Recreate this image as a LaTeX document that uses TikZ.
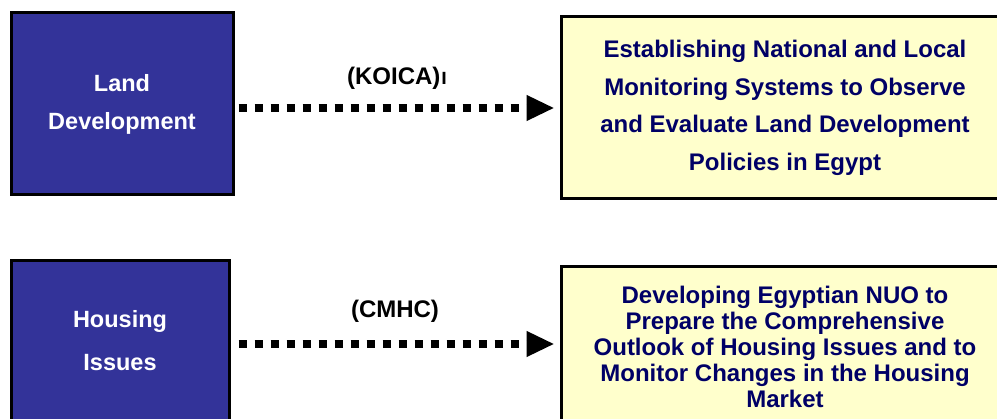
\documentclass[tikz,border=0pt]{standalone}
\usepackage{fontspec}
\setmainfont{Liberation Sans}
\newfontfamily\arabicfont[Script=Arabic]{DejaVu Sans}
\TeXXeTstate=1
\usepackage{tikz}
\usetikzlibrary{arrows.meta, positioning, calc}
\definecolor{themeblue}{HTML}{333399}
\definecolor{themeyellow}{HTML}{FFFFCC}
\definecolor{themenavy}{HTML}{000066}
\begin{document}
\begin{tikzpicture}[x=1pt, y=-1pt,
		topic/.style={draw=black, line width=3pt, fill=themeblue, text=white, align=center, inner sep=0pt},
		goal/.style={draw=black, line width=3pt, fill=themeyellow, text=themenavy, align=center, inner sep=0pt},
		flow/.style={line width=8pt, dash pattern=on 8pt off 8pt, -{Triangle[length=28pt, width=24pt]}, shorten <=4pt, shorten >=5pt},
		agency/.style={font=\fontsize{24}{26}\selectfont\bfseries}]
		% Bildbereich
		\useasboundingbox (0,0) rectangle (997,419);
		\clip (0,0) rectangle (997,419);
		% Themen
		\node[topic, minimum width=222pt, minimum height=182pt, font=\fontsize{23.5}{38}\selectfont\bfseries] (land) at (122,104) {Land\\Development};
		\node[topic, minimum width=218pt, minimum height=160pt, font=\fontsize{23.5}{43}\selectfont\bfseries] (housing) at (120,341) {Housing\\Issues};
		% Ziele
		\node[goal, minimum width=448pt, minimum height=182pt, font=\fontsize{24}{37.5}\selectfont\bfseries] (monitor) at (785,108)
			{Establishing National and Local\\Monitoring Systems to Observe\\and Evaluate Land Development\\Policies in Egypt};
		\node[goal, minimum width=448pt, minimum height=160pt, font=\fontsize{24}{25.8}\selectfont\bfseries] (nuo) at (785,347)
			{Developing Egyptian NUO to\\Prepare the Comprehensive\\Outlook of Housing Issues and to\\Monitor Changes in the Housing\\Market};
		% Pfeile
		\draw[flow] (land.east |- monitor) -- (monitor.west) node[midway, above=11pt, agency] (koica) {(KOICA)\kern1pt{\arabicfont\fontsize{16}{16}\selectfont\beginR ا\endR}};
		\draw[flow, shorten <=8pt] (housing.east |- 0,344) -- (nuo.west |- 0,344) node[midway, above=14pt, agency] (cmhc) {(CMHC)};
	\end{tikzpicture}
\end{document}
